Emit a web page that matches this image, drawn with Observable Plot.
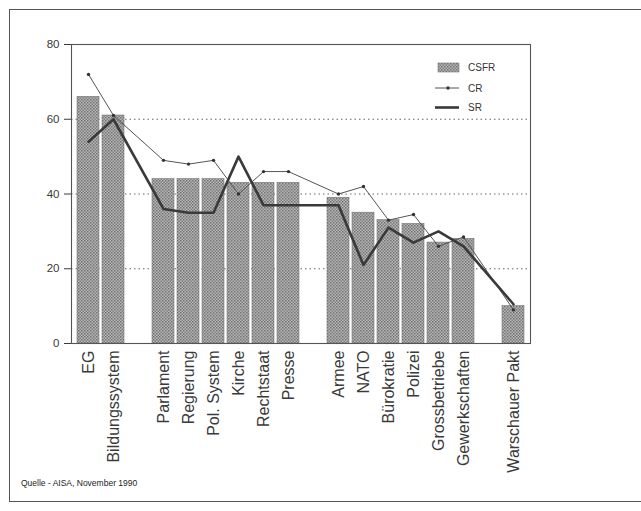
<!DOCTYPE html>
<html>
<head>
<meta charset="utf-8">
<script src="https://cdn.jsdelivr.net/npm/d3@7"></script>
<script src="https://cdn.jsdelivr.net/npm/@observablehq/plot@0.6"></script>
<style>
  html, body { margin: 0; padding: 0; background: #fff; }
  body { width: 641px; height: 511px; position: relative; overflow: hidden;
         font-family: "Liberation Sans", Arial, Helvetica, sans-serif; }
  #border { position: absolute; left: 9px; top: 9px; width: 660px; height: 493px;
            border: 1.5px solid #555; box-sizing: border-box; }
  #chart { position: absolute; left: 0; top: 0; }
  #legend { position: absolute; left: 0; top: 0; }
  #caption { position: absolute; left: 21px; top: 478px; font-size: 8.5px; color: #222; }
</style>
</head>
<body>
<div id="border"></div>
<div id="chart"></div>
<svg id="legend" width="641" height="140"></svg>
<div id="caption"></div>
<script>
// ---- data ----
const categories = ["EG", "Bildungssystem", "Parlament", "Regierung", "Pol. System", "Kirche",
  "Rechtstaat", "Presse", "Armee", "NATO", "Bürokratie", "Polizei", "Grossbetriebe",
  "Gewerkschaften", "Warschauer Pakt"];
const csfr = [66, 61, 44, 44, 44, 43, 43, 43, 39, 35, 33, 32, 27, 28, 10];
const cr   = [72, 61, 49, 48, 49, 40, 46, 46, 40, 42, 33, 34.5, 26, 28.5, 9];
const sr   = [54, 60, 36, 35, 35, 50, 37, 37, 37, 21, 31, 27, 30, 26, 10.5];
// category slots along the axis, with empty gaps between groups
const slots = ["EG", "Bildungssystem", "gap1", "Parlament", "Regierung", "Pol. System", "Kirche",
  "Rechtstaat", "Presse", "gap2", "Armee", "NATO", "Bürokratie", "Polizei", "Grossbetriebe",
  "Gewerkschaften", "gap3", "Warschauer Pakt"];
const yTicks = [0, 20, 40, 60, 80];
const gridValues = [20, 40, 60];
const seriesNames = ["CSFR", "CR", "SR"];
const caption = "Quelle - AISA, November 1990";

const data = categories.map((c, i) => ({cat: c, csfr: csfr[i], cr: cr[i], sr: sr[i]}));

const W = 641, H = 480;
const chart = Plot.plot({
  width: W, height: H,
  marginLeft: 71, marginRight: 111, marginTop: 44, marginBottom: H - 343,
  style: {background: "transparent", fontFamily: "'Liberation Sans', Arial, sans-serif", color: "#3a3a3a"},
  x: {type: "band", domain: slots, paddingInner: 0.14, paddingOuter: 0, insetLeft: 1.8, insetRight: 1.5,
      tickFormat: d => d.startsWith("gap") ? "" : d, tickRotate: -90, tickSize: 0, tickPadding: 7, label: null},
  y: {domain: [0, 80], ticks: yTicks, tickSize: 7, tickPadding: 5, label: null},
  marks: [
    Plot.ruleY(gridValues, {stroke: "#666", strokeWidth: 1, strokeDasharray: "1.5,3"}),
    Plot.barY(data, {x: "cat", y: "csfr", fill: "url(#dotpat)", stroke: "#777", strokeWidth: 0.6}),
    Plot.line(data, {x: "cat", y: "cr", stroke: "#555", strokeWidth: 1}),
    Plot.dot(data, {x: "cat", y: "cr", r: 1.7, fill: "#333", stroke: "none"}),
    Plot.line(data, {x: "cat", y: "sr", stroke: "#3a3a3a", strokeWidth: 2.6}),
    Plot.frame({stroke: "#555", strokeWidth: 1.1})
  ]
});

// texture pattern for bars
const svg = d3.select(chart);
function addPattern(sel, id) {
  const p = sel.insert("defs", ":first-child").append("pattern")
    .attr("id", id).attr("width", 3).attr("height", 3).attr("patternUnits", "userSpaceOnUse");
  p.append("rect").attr("width", 3).attr("height", 3).attr("fill", "#b8b8b8");
  p.append("rect").attr("x", 0).attr("y", 0).attr("width", 1.5).attr("height", 1.5).attr("fill", "#707070");
  p.append("rect").attr("x", 1.5).attr("y", 1.5).attr("width", 1.5).attr("height", 1.5).attr("fill", "#7e7e7e");
}
addPattern(svg, "dotpat");
svg.selectAll("g[aria-label='x-axis tick label'] text, g[aria-label='x-axis'] text").style("font-size", "16px");
svg.selectAll("g[aria-label='y-axis tick label'] text, g[aria-label='y-axis'] text").style("font-size", "11.5px");
document.getElementById("chart").appendChild(chart);

// legend
const lg = d3.select("#legend");
addPattern(lg, "dotpat2");
const legY = [67.5, 88, 107.5];
lg.append("rect").attr("x", 438).attr("y", 63).attr("width", 21).attr("height", 9)
  .attr("fill", "url(#dotpat2)").attr("stroke", "#777").attr("stroke-width", 0.6);
lg.append("line").attr("x1", 435).attr("x2", 459).attr("y1", legY[1]).attr("y2", legY[1])
  .attr("stroke", "#555").attr("stroke-width", 1);
lg.append("circle").attr("cx", 448).attr("cy", legY[1]).attr("r", 1.7).attr("fill", "#333");
lg.append("line").attr("x1", 435).attr("x2", 459).attr("y1", legY[2]).attr("y2", legY[2])
  .attr("stroke", "#3a3a3a").attr("stroke-width", 2.6);
seriesNames.forEach((s, i) => {
  lg.append("text").attr("x", 468).attr("y", legY[i]).attr("dy", "0.35em")
    .attr("font-size", 10).attr("fill", "#333")
    .attr("font-family", "'Liberation Sans', Arial, sans-serif").text(s);
});
document.getElementById("caption").textContent = caption;
</script>
</body>
</html>
